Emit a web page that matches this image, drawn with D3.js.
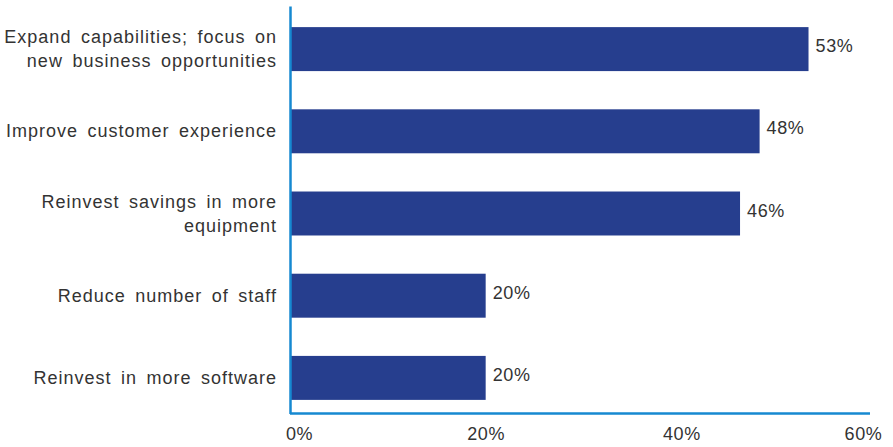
<!DOCTYPE html>
<html>
<head>
<meta charset="utf-8">
<script src="https://cdn.jsdelivr.net/npm/d3@7/dist/d3.min.js"></script>
<style>
  html, body { margin: 0; padding: 0; background: #ffffff; }
  svg { display: block; }
  text { font-family: "Liberation Sans", Arial, sans-serif; fill: #333333; }
</style>
</head>
<body>
<svg id="chart" width="893" height="447"></svg>
<script>
// ---- data ----
const categories = [
  ["Expand capabilities; focus on", "new business opportunities"],
  ["Improve customer experience"],
  ["Reinvest savings in more", "equipment"],
  ["Reduce number of staff"],
  ["Reinvest in more software"]
];
const values = [53, 48, 46, 20, 20];
const tickValues = [0, 20, 40, 60];

// ---- layout ----
const x0 = 290, axisEnd = 870, axisY = 413.5;
const svg = d3.select("#chart");

const x = d3.scaleLinear().domain([0, 60]).range([x0, 877]);
const y = d3.scaleBand()
  .domain(d3.range(categories.length))
  .range([8, 419])
  .paddingInner(0.465)
  .paddingOuter(0.2325);

// bars
svg.append("g").selectAll("rect")
  .data(values)
  .join("rect")
  .attr("x", x(0))
  .attr("y", (d, i) => y(i))
  .attr("width", d => x(d) - x(0))
  .attr("height", y.bandwidth())
  .attr("fill", "#263e8e");

// value labels
svg.append("g").selectAll("text")
  .data(values)
  .join("text")
  .attr("x", d => x(d) + 7)
  .attr("y", (d, i) => y(i) + y.bandwidth() / 2 + 3)
  .style("font-size", "18px")
  .style("letter-spacing", "0.6px")
  .text(d => d + "%");

// category labels
const catG = svg.append("g");
categories.forEach((lines, i) => {
  const cy = y(i) + y.bandwidth() / 2;
  const t = catG.append("text")
    .attr("text-anchor", "end")
    .style("font-size", "18px")
    .style("letter-spacing", "1px")
    .style("word-spacing", "3.5px");
  const lh = 24;
  const startY = cy + 6 - (lines.length - 1) * lh / 2;
  lines.forEach((ln, j) => {
    t.append("tspan").attr("x", 277).attr("y", startY + j * lh).text(ln);
  });
});

// x axis
const xAxis = d3.axisBottom(x)
  .tickValues(tickValues)
  .tickSize(0)
  .tickPadding(14)
  .tickFormat(d => d + "%");
const gx = svg.append("g").attr("transform", `translate(0,${axisY})`).call(xAxis);
gx.select(".domain")
  .attr("d", `M${x0},0H${axisEnd}`)
  .attr("stroke", "#1689d1").attr("stroke-width", 2.5);
const tickShift = { 0: 9, 60: -14 };
gx.selectAll(".tick text")
  .style("font-size", "18px")
  .style("letter-spacing", "0.6px")
  .attr("fill", "#333333")
  .attr("font-family", null)
  .attr("dx", d => tickShift[d] || 0);

// y axis line
const yAxis = d3.axisLeft(d3.scaleLinear().domain([0, 1]).range([axisY, 6])).ticks(0).tickSize(0);
const gy = svg.append("g").attr("transform", `translate(${x0},0)`).call(yAxis);
gy.select(".domain").attr("stroke", "#1689d1").attr("stroke-width", 2.5);
</script>
</body>
</html>
